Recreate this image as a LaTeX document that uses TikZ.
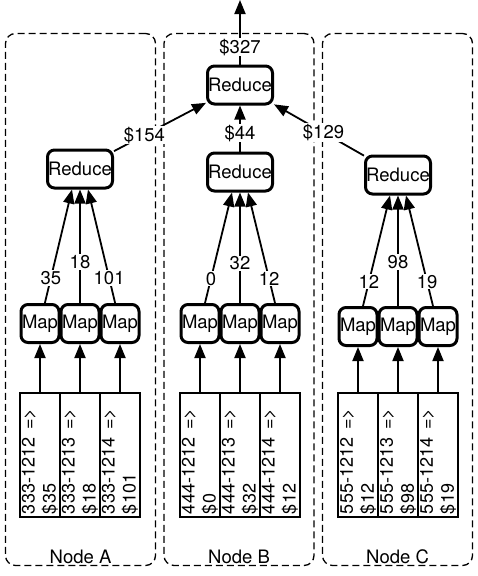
\documentclass[tikz,border=0pt]{standalone}
\usepackage{fontspec}
\setmainfont{TeX Gyre Heros}
\usetikzlibrary{arrows.meta}

\begin{document}
\begin{tikzpicture}[
        x=1pt, y=-1pt,
        every node/.style={font=\fontsize{18.5}{21}\selectfont},
        container/.style={draw=black, line width=1.3pt, dash pattern=on 7pt off 4pt, rounded corners=10pt, minimum width=150pt, minimum height=532pt},
        reducenode/.style={draw=black, line width=3pt, rounded corners=7pt, minimum width=65pt, minimum height=38pt, inner sep=0.5pt},
        mapnode/.style={draw=black, line width=3pt, rounded corners=7pt, minimum width=38pt, minimum height=38pt, inner sep=0.5pt},
        record/.style={draw=black, line width=1.3pt, rotate=90, minimum width=124pt, minimum height=40pt, text width=118pt, align=left, inner xsep=3pt, inner ysep=1pt, font=\fontsize{18}{21}\selectfont},
        arr/.style={-{Triangle[width=11pt,length=14pt]}, line width=1.8pt}
        ]
            \useasboundingbox (0,0) rectangle (478,576);

            \node[container] (boxA) at (80.5,299.5) {};
            \node[container] (boxB) at (239,299.5) {};
            \node[container] (boxC) at (397.5,299.5) {};
            \node[] (nameA) at (80.5,557) {Node A};
            \node[] (nameB) at (239,557) {Node B};
            \node[] (nameC) at (397.5,557) {Node C};

            \node[reducenode] (redT) at (240,85) {Reduce};
            \node[reducenode] (redA) at (80,169) {Reduce};
            \node[reducenode] (redB) at (240,172) {Reduce};
            \node[reducenode] (redC) at (398,175) {Reduce};

            \node[mapnode] (mapA1) at (40,323.5) {Map};
            \node[mapnode] (mapA2) at (80,323.5) {Map};
            \node[mapnode] (mapA3) at (120,323.5) {Map};
            \node[mapnode] (mapB1) at (200,323.5) {Map};
            \node[mapnode] (mapB2) at (240,323.5) {Map};
            \node[mapnode] (mapB3) at (280,323.5) {Map};
            \node[mapnode] (mapC1) at (358,326.5) {Map};
            \node[mapnode] (mapC2) at (398,326.5) {Map};
            \node[mapnode] (mapC3) at (438,326.5) {Map};

            \node[record] (recA1) at (40,455) {333-1212\hspace{8pt}=>\\\$35};
            \node[record] (recA2) at (80,455) {333-1213\hspace{8pt}=>\\\$18};
            \node[record] (recA3) at (120,455) {333-1214\hspace{8pt}=>\\\$101};
            \node[record] (recB1) at (200,455) {444-1212\hspace{8pt}=>\\\$0};
            \node[record] (recB2) at (240,455) {444-1213\hspace{8pt}=>\\\$32};
            \node[record] (recB3) at (280,455) {444-1214\hspace{8pt}=>\\\$12};
            \node[record] (recC1) at (358,455) {555-1212\hspace{8pt}=>\\\$12};
            \node[record] (recC2) at (398,455) {555-1213\hspace{8pt}=>\\\$98};
            \node[record] (recC3) at (438,455) {555-1214\hspace{8pt}=>\\\$19};

            \coordinate (out) at (240,0);

            \tikzset{lbl/.style={fill=white, inner sep=1pt}}

            \draw[arr] (redT) edge[] node[lbl, pos=0.27] {\$327} (out);
            \draw[arr] (redB) edge[] node[lbl, pos=0.4] {\$44} (redT);
            \draw[arr] (redA) edge[] node[lbl, pos=0.33] {\$154} (redT);
            \draw[arr] (redC) edge[] node[lbl, pos=0.45] {\$129} (redT);

            \draw[arr] (mapA1) edge[] node[lbl, pos=0.22] {35} ([xshift=-8pt]redA.south);
            \draw[arr] (mapA2) edge[] node[lbl, pos=0.36] {18} (redA.south);
            \draw[arr] (mapA3) edge[] node[lbl, pos=0.22] {101} ([xshift=8pt]redA.south);
            \draw[arr] (mapB1) edge[] node[lbl, pos=0.22] {0} ([xshift=-8pt]redB.south);
            \draw[arr] (mapB2) edge[] node[lbl, pos=0.36] {32} (redB.south);
            \draw[arr] (mapB3) edge[] node[lbl, pos=0.22] {12} ([xshift=8pt]redB.south);
            \draw[arr] (mapC1) edge[] node[lbl, pos=0.22] {12} ([xshift=-8pt]redC.south);
            \draw[arr] (mapC2) edge[] node[lbl, pos=0.4] {98} (redC.south);
            \draw[arr] (mapC3) edge[] node[lbl, pos=0.22] {19} ([xshift=8pt]redC.south);

            \draw[arr] (recA1) edge[] (mapA1);
            \draw[arr] (recA2) edge[] (mapA2);
            \draw[arr] (recA3) edge[] (mapA3);
            \draw[arr] (recB1) edge[] (mapB1);
            \draw[arr] (recB2) edge[] (mapB2);
            \draw[arr] (recB3) edge[] (mapB3);
            \draw[arr] (recC1) edge[] (mapC1);
            \draw[arr] (recC2) edge[] (mapC2);
            \draw[arr] (recC3) edge[] (mapC3);

        \end{tikzpicture}
\end{document}
